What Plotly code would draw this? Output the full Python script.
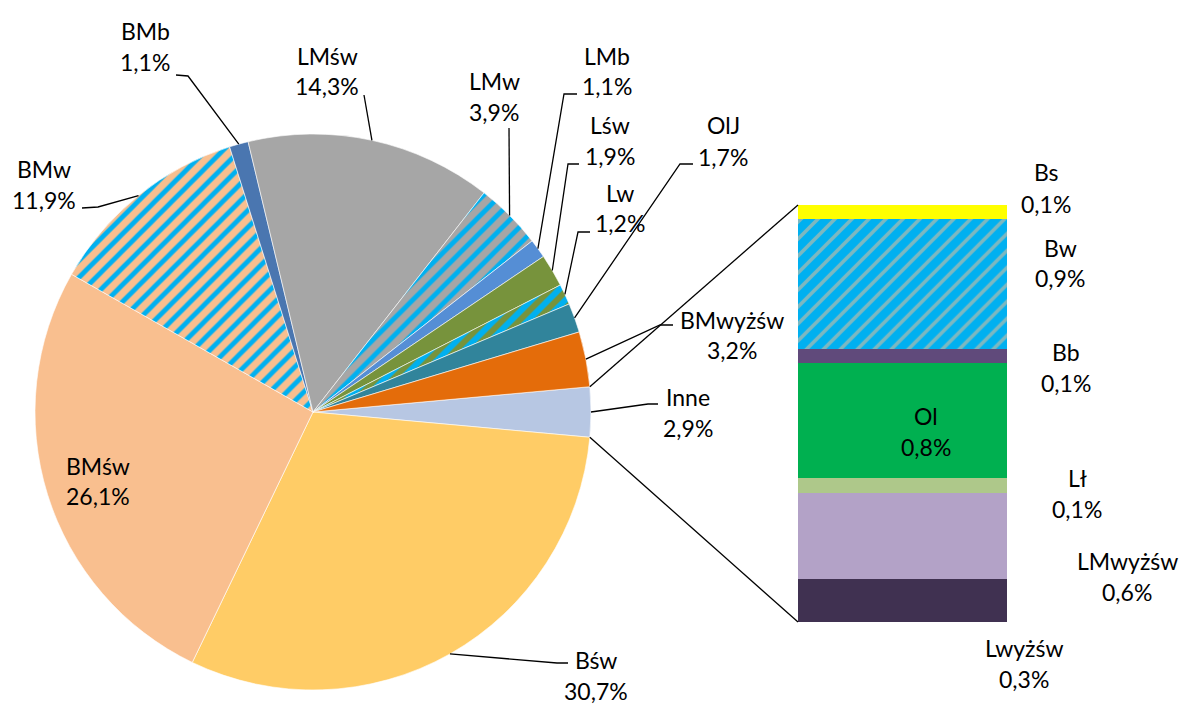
import math
import plotly.graph_objects as go

# pie slices, clockwise starting with the "Inne" slice (split out into the bar)
pie_labels = ['Inne', 'Bśw', 'BMśw', 'BMw', 'BMb', 'LMśw', 'LMw', 'LMb', 'Lśw', 'Lw', 'OlJ', 'BMwyżśw']
pie_values = [2.9, 30.7, 26.1, 11.9, 1.1, 14.3, 3.9, 1.1, 1.9, 1.2, 1.7, 3.2]

# bar of "Inne", bottom to top
bar_labels = ['Lwyżśw', 'LMwyżśw', 'Lł', 'Ol', 'Bb', 'Bw', 'Bs']
bar_values = [0.3, 0.6, 0.1, 0.8, 0.1, 0.9, 0.1]

W, H = 1181, 704
FONT = 'Lato'
FONT_SIZE = 23
BLUE = '#00B0F0'

def px(x):
    return x / W

def py(y):
    return 1 - y / H

def pct(v):
    return f'{v:.1f}'.replace('.', ',') + '%'

# pie geometry (pixels)
PIE_CX, PIE_CY, PIE_R = 313, 412, 278
# bar box (pixels)
BAR_X0, BAR_X1, BAR_Y0, BAR_Y1 = 798, 1007, 205, 622

pie_colors = {
    'Inne': '#B7C7E3', 'Bśw': '#FFCC66', 'BMśw': '#F9BF8F', 'BMw': '#F9BF8F',
    'BMb': '#4A76B0', 'LMśw': '#A6A6A6', 'LMw': '#A6A6A6', 'LMb': '#558ED5',
    'Lśw': '#77933C', 'Lw': '#77933C', 'OlJ': '#31849B', 'BMwyżśw': '#E46C0A',
}
hatched = {'BMw': 0.4, 'LMw': 0.4, 'Lw': 0.5}

bar_colors = {
    'Lwyżśw': '#403151', 'LMwyżśw': '#B3A2C7', 'Lł': '#AEC88A', 'Ol': '#00B050',
    'Bb': '#604A7B', 'Bw': BLUE, 'Bs': '#FFFF00',
}

total = sum(pie_values)
rotation = 90 - pie_values[0] / total * 360 / 2

fig = go.Figure()

fig.add_trace(go.Pie(
    labels=pie_labels,
    values=pie_values,
    sort=False,
    direction='clockwise',
    rotation=rotation,
    textinfo='none',
    hoverinfo='label+percent',
    showlegend=False,
    domain=dict(x=[px(PIE_CX - PIE_R), px(PIE_CX + PIE_R)],
                y=[py(PIE_CY + PIE_R), py(PIE_CY - PIE_R)]),
    marker=dict(
        colors=[pie_colors[l] for l in pie_labels],
        line=dict(color='white', width=0.6),
        pattern=dict(
            shape=['/' if l in hatched else '' for l in pie_labels],
            fgcolor=[BLUE for l in pie_labels],
            bgcolor=[pie_colors[l] for l in pie_labels],
            solidity=[hatched.get(l, 0.3) for l in pie_labels],
            size=12,
        ),
    ),
))

for lab, val in zip(bar_labels, bar_values):
    marker = dict(color=bar_colors[lab], line=dict(width=0))
    if lab == 'Bw':
        marker['pattern'] = dict(shape='/', fgcolor='#F9BF8F', bgcolor=BLUE,
                                 solidity=0.3, size=12)
    fig.add_trace(go.Bar(x=[0], y=[val], width=[1], name=lab, marker=marker,
                         showlegend=False, hoverinfo='name+y'))

# label placement (pixel centres of the two-line labels)
pie_text_pos = {
    'Inne': (688, 412), 'Bśw': (596, 675), 'BMśw': (98, 481), 'BMw': (44, 184),
    'BMb': (145, 46), 'LMśw': (327, 71), 'LMw': (494, 96), 'LMb': (607, 71),
    'Lśw': (610, 140), 'Lw': (620, 208), 'OlJ': (723, 141), 'BMwyżśw': (732, 335),
}
# leader line points from label side to elbow; slice anchor is appended
pie_leader = {
    'Inne': [(658, 404), (648, 404)],
    'Bśw': [(568, 663), (557, 663)],
    'BMw': [(82, 208), (98, 207)],
    'BMb': [(176, 75), (188, 76)],
    'LMśw': [(364, 95)],
    'LMw': [(509, 128)],
    'LMb': [(577, 94), (564, 94)],
    'Lśw': [(579, 164), (568, 164)],
    'Lw': [(590, 232), (578, 232)],
    'OlJ': [(693, 164), (680, 164)],
    'BMwyżśw': [(673, 325), (660, 325)],
}
bar_text_pos = {
    'Bs': (1046, 188), 'Bw': (1060, 263), 'Bb': (1066, 367), 'Ol': (926, 431),
    'Lł': (1077, 493), 'LMwyżśw': (1127, 576), 'Lwyżśw': (1024, 663),
}

annotations = []
shapes = []

def add_label(name, value, cx, cy):
    for txt, dy in ((name, -15.5), (pct(value), 15.5)):
        annotations.append(dict(
            x=px(cx), y=py(cy + dy), xref='paper', yref='paper',
            text=txt, showarrow=False, xanchor='center', yanchor='middle',
            font=dict(family=FONT, size=FONT_SIZE, color='black'),
        ))

def on_circle(angle_deg):
    a = math.radians(angle_deg)
    return PIE_CX + PIE_R * math.sin(a), PIE_CY - PIE_R * math.cos(a)

start = rotation
for lab, val in zip(pie_labels, pie_values):
    span = val / total * 360
    cx, cy = pie_text_pos[lab]
    add_label(lab, val, cx, cy)
    if lab in pie_leader:
        pts = pie_leader[lab] + [on_circle(start + span / 2)]
        path = 'M ' + ' L '.join(f'{px(x):.5f},{py(y):.5f}' for x, y in pts)
        shapes.append(dict(type='path', path=path, xref='paper', yref='paper',
                           line=dict(color='black', width=1.3)))
    start += span

for lab, val in zip(bar_labels, bar_values):
    cx, cy = bar_text_pos[lab]
    add_label(lab, val, cx, cy)

# connectors from the "Inne" slice edges to the bar corners
inne_span = pie_values[0] / total * 360
for ang, by in ((rotation, BAR_Y0), (rotation + inne_span, BAR_Y1)):
    x0, y0 = on_circle(ang)
    shapes.append(dict(type='line', xref='paper', yref='paper',
                       x0=px(x0), y0=py(y0), x1=px(BAR_X0), y1=py(by),
                       line=dict(color='black', width=1.3)))

fig.update_layout(
    width=W, height=H,
    margin=dict(l=0, r=0, t=0, b=0),
    paper_bgcolor='white', plot_bgcolor='white',
    barmode='stack', bargap=0,
    xaxis=dict(domain=[px(BAR_X0), px(BAR_X1)], range=[-0.5, 0.5], visible=False),
    yaxis=dict(domain=[py(BAR_Y1), py(BAR_Y0)], range=[0, sum(bar_values)], visible=False),
    annotations=annotations,
    shapes=shapes,
    font=dict(family=FONT),
)

# drop the default page margin so the figure sits at the window's corner
fig.write_html('out.html', config={'displayModeBar': False},
               post_script="document.body.style.margin='0';")
